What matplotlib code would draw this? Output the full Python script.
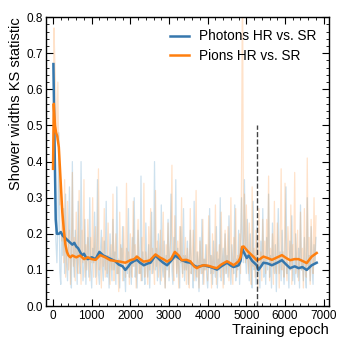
import matplotlib
matplotlib.use("Agg")
import matplotlib.pyplot as plt
from matplotlib.ticker import MultipleLocator
import numpy as np

# raw KS values, one every 25 epochs (0 .. 6800)
raw_step = 25
photons_raw = [
    0.67, 0.52, 0.30, 0.18, 0.12, 0.22, 0.48, 0.10, 0.06, 0.20, 0.14, 0.27, 0.09, 0.31, 0.12, 0.07, 0.18, 0.33, 0.11, 0.05,
    0.40, 0.13, 0.08, 0.21, 0.15, 0.06, 0.29, 0.12, 0.09, 0.40, 0.16, 0.07, 0.11, 0.24, 0.06, 0.14, 0.19, 0.08, 0.30, 0.10,
    0.05, 0.16, 0.12, 0.26, 0.08, 0.13, 0.35, 0.09, 0.06, 0.15, 0.21, 0.11, 0.07, 0.18, 0.10, 0.29, 0.08, 0.14, 0.05, 0.20,
    0.12, 0.07, 0.24, 0.10, 0.15, 0.06, 0.33, 0.09, 0.13, 0.05, 0.17, 0.11, 0.22, 0.07, 0.10, 0.04, 0.16, 0.09, 0.27, 0.08,
    0.13, 0.06, 0.19, 0.11, 0.30, 0.08, 0.14, 0.05, 0.21, 0.12, 0.09, 0.36, 0.07, 0.15, 0.10, 0.06, 0.23, 0.12, 0.08, 0.17,
    0.05, 0.14, 0.26, 0.09, 0.12, 0.40, 0.10, 0.16, 0.07, 0.20, 0.13, 0.06, 0.28, 0.11, 0.08, 0.18, 0.05, 0.14, 0.10, 0.24,
    0.07, 0.15, 0.31, 0.10, 0.06, 0.19, 0.13, 0.35, 0.08, 0.16, 0.11, 0.05, 0.22, 0.12, 0.09, 0.27, 0.07, 0.14, 0.10, 0.18,
    0.06, 0.13, 0.21, 0.09, 0.11, 0.05, 0.29, 0.10, 0.07, 0.15, 0.12, 0.04, 0.19, 0.09, 0.24, 0.06, 0.13, 0.10, 0.17, 0.08,
    0.05, 0.12, 0.27, 0.09, 0.14, 0.06, 0.18, 0.11, 0.08, 0.22, 0.05, 0.13, 0.10, 0.30, 0.07, 0.12, 0.16, 0.06, 0.20, 0.09,
    0.14, 0.08, 0.25, 0.11, 0.06, 0.17, 0.12, 0.09, 0.28, 0.07, 0.13, 0.10, 0.21, 0.06, 0.15, 0.30, 0.18, 0.12, 0.35, 0.14,
    0.09, 0.24, 0.13, 0.07, 0.20, 0.11, 0.05, 0.29, 0.10, 0.14, 0.06, 0.22, 0.09, 0.12, 0.05, 0.18, 0.11, 0.27, 0.08, 0.13,
    0.06, 0.19, 0.10, 0.31, 0.08, 0.14, 0.05, 0.23, 0.12, 0.09, 0.17, 0.04, 0.13, 0.27, 0.09, 0.15, 0.07, 0.21, 0.11, 0.06,
    0.14, 0.33, 0.09, 0.12, 0.05, 0.18, 0.10, 0.25, 0.07, 0.13, 0.06, 0.20, 0.11, 0.08, 0.16, 0.05, 0.28, 0.10, 0.12, 0.07,
    0.19, 0.09, 0.05, 0.30, 0.11, 0.14, 0.07, 0.22, 0.10, 0.06, 0.17, 0.12, 0.19,
]
pions_raw = [
    0.38, 0.77, 0.66, 0.58, 0.46, 0.62, 0.40, 0.28, 0.33, 0.18, 0.24, 0.12, 0.35, 0.08, 0.16, 0.29, 0.10, 0.21, 0.06, 0.14,
    0.37, 0.11, 0.19, 0.07, 0.26, 0.13, 0.09, 0.32, 0.15, 0.06, 0.21, 0.12, 0.35, 0.08, 0.17, 0.10, 0.24, 0.14, 0.07, 0.19,
    0.12, 0.30, 0.08, 0.16, 0.22, 0.06, 0.13, 0.38, 0.10, 0.15, 0.05, 0.19, 0.11, 0.27, 0.08, 0.14, 0.09, 0.23, 0.12, 0.06,
    0.17, 0.10, 0.31, 0.07, 0.14, 0.20, 0.09, 0.12, 0.04, 0.26, 0.11, 0.16, 0.07, 0.22, 0.13, 0.08, 0.34, 0.10, 0.15, 0.06,
    0.20, 0.12, 0.08, 0.29, 0.11, 0.17, 0.05, 0.14, 0.24, 0.09, 0.13, 0.07, 0.19, 0.11, 0.34, 0.08, 0.15, 0.12, 0.06, 0.22,
    0.10, 0.27, 0.09, 0.16, 0.12, 0.06, 0.32, 0.11, 0.18, 0.08, 0.14, 0.21, 0.07, 0.13, 0.26, 0.10, 0.05, 0.17, 0.12, 0.23,
    0.08, 0.15, 0.20, 0.39, 0.11, 0.07, 0.25, 0.13, 0.09, 0.18, 0.05, 0.22, 0.12, 0.30, 0.08, 0.14, 0.10, 0.19, 0.06, 0.16,
    0.11, 0.05, 0.27, 0.09, 0.13, 0.21, 0.07, 0.12, 0.32, 0.08, 0.15, 0.05, 0.18, 0.11, 0.09, 0.24, 0.06, 0.13, 0.10, 0.17,
    0.07, 0.25, 0.11, 0.14, 0.05, 0.20, 0.09, 0.12, 0.28, 0.06, 0.15, 0.10, 0.17, 0.08, 0.26, 0.12, 0.05, 0.14, 0.21, 0.09,
    0.13, 0.22, 0.07, 0.16, 0.30, 0.10, 0.06, 0.19, 0.12, 0.27, 0.08, 0.14, 0.11, 0.20, 0.09, 0.36, 0.95, 0.16, 0.31, 0.12,
    0.28, 0.14, 0.09, 0.23, 0.12, 0.06, 0.33, 0.11, 0.16, 0.08, 0.21, 0.13, 0.05, 0.27, 0.10, 0.15, 0.07, 0.24, 0.12, 0.18,
    0.09, 0.24, 0.13, 0.36, 0.07, 0.16, 0.11, 0.20, 0.06, 0.29, 0.12, 0.09, 0.23, 0.14, 0.05, 0.18, 0.38, 0.10, 0.15, 0.08,
    0.34, 0.12, 0.07, 0.22, 0.15, 0.10, 0.28, 0.06, 0.17, 0.13, 0.37, 0.09, 0.14, 0.21, 0.07, 0.12, 0.26, 0.10, 0.16, 0.05,
    0.27, 0.13, 0.08, 0.41, 0.11, 0.19, 0.06, 0.24, 0.14, 0.09, 0.30, 0.12, 0.25,
]

# smoothed curves
photons_ep = [10, 40, 70, 100, 150, 200, 250, 300, 350, 400, 450, 500, 550, 600, 650,
              700, 750, 800, 850, 900, 1000, 1100, 1200, 1300, 1400, 1500, 1600, 1700,
              1800, 1870, 1950, 2000, 2100, 2170, 2250, 2350, 2450, 2520, 2650, 2770,
              2850, 2950, 3050, 3160, 3250, 3330, 3450, 3550, 3650, 3720, 3800, 3900,
              4000, 4070, 4150, 4240, 4350, 4500, 4600, 4670, 4800, 4850, 4890, 4930,
              5010, 5060, 5150, 5270, 5310, 5380, 5440, 5550, 5660, 5800, 5920, 6030,
              6130, 6250, 6350, 6450, 6560, 6690, 6820]
photons_ks = [0.67, 0.45, 0.24, 0.20, 0.20, 0.205, 0.195, 0.19, 0.185, 0.18, 0.175, 0.17,
              0.175, 0.165, 0.16, 0.15, 0.14, 0.145, 0.135, 0.13, 0.135, 0.13, 0.15, 0.14,
              0.135, 0.13, 0.125, 0.115, 0.11, 0.10, 0.11, 0.118, 0.125, 0.128, 0.12,
              0.113, 0.118, 0.12, 0.14, 0.127, 0.12, 0.113, 0.125, 0.14, 0.133, 0.127,
              0.122, 0.12, 0.112, 0.108, 0.11, 0.113, 0.11, 0.108, 0.105, 0.101, 0.11,
              0.12, 0.112, 0.108, 0.113, 0.125, 0.16, 0.15, 0.133, 0.14, 0.125, 0.113,
              0.10, 0.11, 0.12, 0.118, 0.113, 0.12, 0.127, 0.115, 0.105, 0.11, 0.105,
              0.108, 0.10, 0.113, 0.12]
pions_ep = [0, 20, 50, 80, 110, 150, 180, 210, 240, 280, 320, 360, 400, 450, 500, 600,
            700, 800, 900, 1000, 1100, 1220, 1350, 1480, 1600, 1740, 1870, 2000, 2100,
            2170, 2250, 2340, 2450, 2510, 2650, 2770, 2850, 2950, 3050, 3150, 3250, 3330,
            3450, 3550, 3650, 3720, 3800, 3890, 4000, 4065, 4150, 4240, 4350, 4500, 4600,
            4670, 4800, 4850, 4890, 4930, 5050, 5150, 5270, 5350, 5440, 5550, 5660, 5800,
            5920, 6030, 6130, 6250, 6350, 6450, 6560, 6690, 6820]
pions_ks = [0.38, 0.56, 0.50, 0.48, 0.47, 0.44, 0.38, 0.32, 0.26, 0.21, 0.17, 0.15, 0.14,
            0.135, 0.14, 0.135, 0.14, 0.13, 0.135, 0.13, 0.128, 0.141, 0.135, 0.127,
            0.125, 0.123, 0.12, 0.127, 0.13, 0.137, 0.13, 0.123, 0.125, 0.127, 0.143,
            0.134, 0.13, 0.123, 0.13, 0.15, 0.14, 0.127, 0.128, 0.124, 0.11, 0.105, 0.11,
            0.113, 0.112, 0.11, 0.107, 0.105, 0.115, 0.124, 0.118, 0.113, 0.124, 0.135,
            0.164, 0.165, 0.15, 0.14, 0.127, 0.13, 0.137, 0.133, 0.128, 0.135, 0.141,
            0.133, 0.127, 0.13, 0.13, 0.125, 0.119, 0.137, 0.147]

marker_epoch = 5270
marker_top = 0.5

plt.rcParams['font.family'] = ['Liberation Sans', 'DejaVu Sans']

fig = plt.figure(figsize=(3.49, 3.49), dpi=100)
ax = fig.add_axes([0.132, 0.123, 0.811, 0.828])

raw_x = np.arange(len(photons_raw)) * raw_step
ax.plot(raw_x, photons_raw, color='C0', alpha=0.22, lw=0.9)
ax.plot(raw_x, pions_raw, color='C1', alpha=0.22, lw=0.9)
ax.plot(photons_ep, photons_ks, color='#3577ad', lw=1.8, label='Photons HR vs. SR')
ax.plot(pions_ep, pions_ks, color='#ff7f0e', lw=1.8, label='Pions HR vs. SR')
ax.plot([marker_epoch, marker_epoch], [0, marker_top], color='#444444', ls='--', lw=1.0)

ax.set_xlim(-180, 7140)
ax.set_ylim(0, 0.8)
ax.xaxis.set_major_locator(MultipleLocator(1000))
ax.xaxis.set_minor_locator(MultipleLocator(200))
ax.yaxis.set_major_locator(MultipleLocator(0.1))
ax.yaxis.set_minor_locator(MultipleLocator(0.02))
ax.yaxis.set_major_formatter(plt.FormatStrFormatter('%.1f'))
ax.tick_params(which='both', direction='in', top=True, right=True, labelsize=8.5, pad=2.5)
ax.tick_params(which='major', length=5, width=0.8)
ax.tick_params(which='minor', length=2.5, width=0.6)
for s in ax.spines.values():
    s.set_linewidth(1.0)

ax.set_xlabel('Training epoch', fontsize=10.5, loc='right', labelpad=1)
ax.set_ylabel('Shower widths KS statistic', fontsize=10.5, loc='top', labelpad=2)
ax.legend(loc='upper right', frameon=False, fontsize=9.8, handlelength=1.4,
          borderaxespad=0.5, labelspacing=0.4)

fig.savefig('out.png', dpi=100)
